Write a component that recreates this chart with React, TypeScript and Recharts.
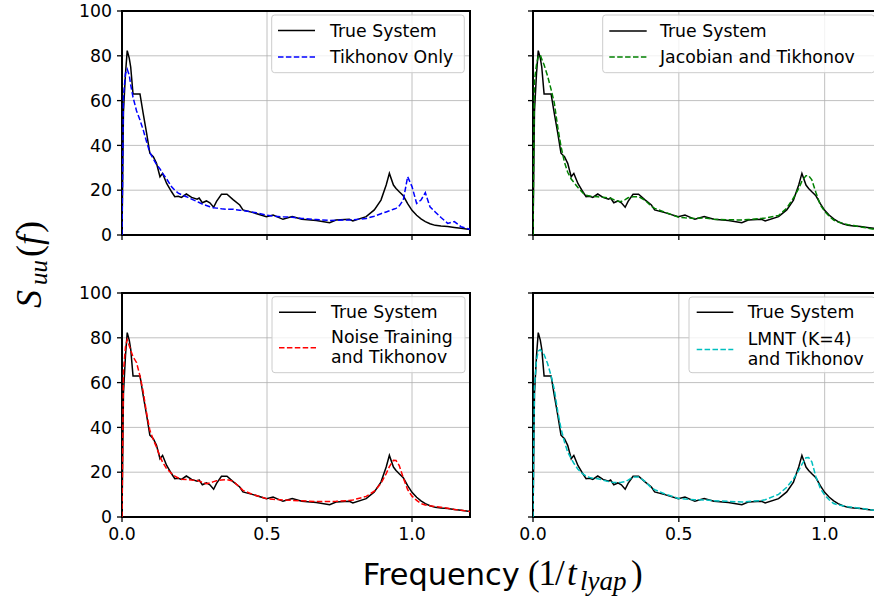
import React from 'react';
import { LineChart, Line, XAxis, YAxis, CartesianGrid, ReferenceArea } from 'recharts';

const frequency = [
  0, 0.005, 0.012, 0.018, 0.025, 0.03, 0.038, 0.05, 0.062, 0.073,
  0.085, 0.096, 0.108, 0.119, 0.131, 0.14, 0.154, 0.171, 0.182, 0.194,
  0.205, 0.222, 0.24, 0.259, 0.266, 0.277, 0.291, 0.303, 0.316, 0.326,
  0.343, 0.362, 0.383, 0.406, 0.417, 0.452, 0.498, 0.521, 0.555, 0.587,
  0.62, 0.67, 0.716, 0.738, 0.784, 0.796, 0.842, 0.87, 0.893, 0.911,
  0.922, 0.936, 0.945, 0.956, 0.97, 0.985, 1.0, 1.016, 1.031, 1.046,
  1.062, 1.08, 1.1, 1.123, 1.146, 1.169, 1.2,
];

const trueSystem = [
  0, 55, 72, 82.3, 79, 75, 63, 63, 63, 54.3,
  45.4, 36.5, 35, 32, 26, 27.5, 23, 19.3, 17.1, 17.3,
  16.8, 18.3, 16.8, 16, 16.5, 14.4, 15.2, 14.4, 12.4, 15.0,
  18.2, 18.2, 15.8, 13.4, 11.2, 10.0, 8.2, 8.9, 7.0, 8.2,
  7.0, 6.5, 5.5, 6.7, 7.0, 6.3, 8.2, 11.2, 15.6, 22.3,
  27.5, 22.3, 20.8, 19.3, 17.5, 14, 11, 8.8, 7.2, 6.0,
  5.0, 4.3, 4.0, 3.8, 3.4, 3.0, 2.5,
];

const tikhonovOnly = [
  0, 62, 72, 74, 71.4, 67, 61.5, 55.5, 51.3, 47,
  41.5, 36.8, 34, 31.5, 29.5, 27.5, 25, 21.5, 20, 18.7,
  18, 17.1, 16, 14.9, 14.5, 13.8, 13.2, 12.6, 12.2, 12,
  11.7, 11.5, 11.5, 11.1, 10.9, 10.2, 8.9, 8.5, 8.1, 7.9,
  7.4, 6.9, 6.5, 6.6, 6.7, 6.8, 7.4, 8.4, 9.5, 10.3,
  10.8, 11.5, 11.9, 13, 15.6, 26, 21.6, 14.1, 15.6, 18.9,
  12.6, 10.3, 7.8, 5.2, 6.0, 3.7, 2.5,
];

const jacobianTikhonov = [
  0, 69, 76, 79.5, 80.4, 78.5, 76, 71, 65, 59,
  48, 39.5, 32.5, 28, 25, 23.5, 21.2, 18.8, 17.7, 17.4,
  17.2, 17.1, 16.8, 16.5, 16.4, 15.8, 15.1, 15.0, 15.8, 16.6,
  17.1, 17.1, 15.6, 12.8, 11.9, 10.2, 8.0, 7.7, 7.4, 7.6,
  7.0, 6.8, 6.7, 6.9, 7.4, 7.6, 8.7, 12, 16.5, 20.8,
  24, 26.5, 26.5, 24.6, 19, 13.5, 10.5, 8.3, 6.7, 5.8,
  5.2, 4.6, 4.2, 3.6, 3.1, 2.6, 2.3,
];

const noiseTikhonov = [
  0, 65, 76, 79.2, 76.5, 74.5, 71.5, 69, 63, 56,
  46.2, 38.7, 34.5, 31.2, 27, 24.5, 21.5, 19.4, 18.2, 17.4,
  16.9, 16.7, 16.5, 16.4, 16, 15.5, 14.9, 15.2, 15.8, 16.2,
  16.5, 16.7, 16.0, 13.3, 11.9, 10.0, 8.2, 7.9, 7.6, 7.4,
  7.2, 6.9, 6.9, 7.0, 7.4, 7.6, 9.2, 11.5, 15, 19.4,
  22.5, 25.3, 25.2, 23, 17.5, 12.2, 9.3, 7.4, 6.0, 5.4,
  5.0, 4.7, 4.4, 3.9, 3.4, 3.0, 2.5,
];

const lmntTikhonov = [
  0, 58, 70, 74, 74.7, 73.8, 72.5, 68.5, 63, 57,
  47, 39.5, 33.5, 29, 26, 24, 21.3, 19.2, 18.3, 17.7,
  17.3, 17.1, 16.5, 15.8, 15.6, 15.4, 15.4, 15.5, 15.8, 16.5,
  17.8, 17.9, 16, 13, 12.2, 10.3, 8.3, 8.0, 7.7, 7.6,
  7.3, 7.0, 6.7, 6.9, 7.4, 7.7, 10.1, 13.3, 17, 20.8,
  23.5, 26.5, 26.6, 24.6, 18, 12.8, 9.8, 7.6, 6.0, 5.4,
  5.0, 4.6, 4.3, 3.9, 3.5, 3.0, 2.5,
];

const xTicks = [0, 0.5, 1.0];
const yTicks = [0, 20, 40, 60, 80, 100];

const data = frequency.map((f, i) => ({
  f,
  truth: trueSystem[i],
  tik: tikhonovOnly[i],
  jac: jacobianTikhonov[i],
  noise: noiseTikhonov[i],
  lmnt: lmntTikhonov[i],
}));

const FONT = 'DejaVu Sans';
const MATH = 'Liberation Serif';
const TICK_FS = 17.3;
const DASH = '5.5 2.4';

type PanelProps = {
  left: number;
  top: number;
  width: number;
  height: number;
  yAxisWidth: number;
  xAxisHeight: number;
  showX: boolean;
  showY: boolean;
  modelKey: string;
  color: string;
};

function Panel(p: PanelProps) {
  return (
    <div style={{ position: 'absolute', left: p.left, top: p.top }}>
      <LineChart
        width={p.width}
        height={p.height}
        data={data}
        margin={{ top: 11, right: 10, bottom: 0, left: 0 }}
      >
        <CartesianGrid stroke="#b0b0b0" strokeWidth={0.8} />
        <XAxis
          dataKey="f"
          type="number"
          domain={[0, 1.2]}
          ticks={xTicks}
          interval={0}
          allowDataOverflow
          height={p.xAxisHeight}
          axisLine={false}
          tickSize={5}
          tickMargin={6}
          tickLine={{ stroke: '#000', strokeWidth: 1.3 }}
          tick={{ fill: '#000', fontSize: TICK_FS, fontFamily: FONT }}
          tickFormatter={(v: number) => (p.showX ? v.toFixed(1) : '')}
        />
        <YAxis
          type="number"
          domain={[0, 100]}
          ticks={yTicks}
          interval={0}
          allowDataOverflow
          width={p.yAxisWidth}
          axisLine={false}
          tickSize={5}
          tickMargin={5}
          tickLine={{ stroke: '#000', strokeWidth: 1.3 }}
          tick={{ fill: '#000', fontSize: TICK_FS, fontFamily: FONT }}
          tickFormatter={(v: number) => (p.showY ? String(v) : '')}
        />
        <Line
          dataKey="truth"
          type="linear"
          stroke="#000000"
          strokeWidth={1.5}
          dot={false}
          activeDot={false}
          isAnimationActive={false}
        />
        <Line
          dataKey={p.modelKey}
          type="linear"
          stroke={p.color}
          strokeWidth={1.5}
          strokeDasharray={DASH}
          dot={false}
          activeDot={false}
          isAnimationActive={false}
        />
        <ReferenceArea
          x1={0}
          x2={1.2}
          y1={0}
          y2={100}
          fill="none"
          fillOpacity={0}
          stroke="#000"
          strokeWidth={2}
          strokeOpacity={1}
          ifOverflow="visible"
        />
      </LineChart>
    </div>
  );
}

type LegendRow = { label: string[]; color: string; dashed: boolean; lineY: number; textY: number[] };

function LegendBox({
  x, y, w, h, hx1, hx2, tx, rows,
}: { x: number; y: number; w: number; h: number; hx1: number; hx2: number; tx: number; rows: LegendRow[] }) {
  return (
    <g>
      <rect x={x} y={y} width={w} height={h} rx={3} ry={3} fill="#ffffff" fillOpacity={0.8} stroke="#cccccc" strokeWidth={1} />
      {rows.map((r, i) => (
        <g key={i}>
          <line
            x1={hx1}
            x2={hx2}
            y1={r.lineY}
            y2={r.lineY}
            stroke={r.color}
            strokeWidth={1.5}
            strokeDasharray={r.dashed ? DASH : undefined}
          />
          {r.label.map((t, j) => (
            <text key={j} x={tx} y={r.textY[j]} fontFamily={FONT} fontSize={TICK_FS} fill="#000" dominantBaseline="central">
              {t}
            </text>
          ))}
        </g>
      ))}
    </g>
  );
}

export default function App() {
  return (
    <div
      style={{
        position: 'fixed',
        left: 0,
        top: 0,
        width: 874,
        height: 598,
        overflow: 'hidden',
        background: '#ffffff',
      }}
    >
      <Panel left={0} top={0} width={480} height={250} yAxisWidth={122} xAxisHeight={15} showX={false} showY={true} modelKey="tik" color="#0000ff" />
      <Panel left={512} top={0} width={381} height={250} yAxisWidth={21} xAxisHeight={15} showX={false} showY={false} modelKey="jac" color="#008000" />
      <Panel left={0} top={282} width={480} height={290} yAxisWidth={122} xAxisHeight={55} showX={true} showY={true} modelKey="noise" color="#ff0000" />
      <Panel left={512} top={282} width={381} height={290} yAxisWidth={21} xAxisHeight={55} showX={true} showY={false} modelKey="lmnt" color="#00bfbf" />

      <svg width={874} height={598} style={{ position: 'absolute', left: 0, top: 0, pointerEvents: 'none' }}>
        <LegendBox
          x={271.7} y={15} w={192.6} h={57.7} hx1={278} hx2={315} tx={330}
          rows={[
            { label: ['True System'], color: '#000', dashed: false, lineY: 30.5, textY: [30.5] },
            { label: ['Tikhonov Only'], color: '#0000ff', dashed: true, lineY: 57, textY: [57] },
          ]}
        />
        <LegendBox
          x={602.7} y={15} w={272} h={57.7} hx1={609.3} hx2={646.7} tx={660}
          rows={[
            { label: ['True System'], color: '#000', dashed: false, lineY: 31, textY: [31] },
            { label: ['Jacobian and Tikhonov'], color: '#008000', dashed: true, lineY: 57, textY: [57] },
          ]}
        />
        <LegendBox
          x={272} y={296.7} w={193} h={76} hx1={279} hx2={316} tx={331}
          rows={[
            { label: ['True System'], color: '#000', dashed: false, lineY: 312.3, textY: [312.3] },
            { label: ['Noise Training', 'and Tikhonov'], color: '#ff0000', dashed: true, lineY: 347.7, textY: [337, 356.5] },
          ]}
        />
        <LegendBox
          x={689} y={297} w={186} h={75.7} hx1={696.7} hx2={733.3} tx={747.7}
          rows={[
            { label: ['True System'], color: '#000', dashed: false, lineY: 312.3, textY: [312.3] },
            { label: ['LMNT (K=4)', 'and Tikhonov'], color: '#00bfbf', dashed: true, lineY: 349.5, textY: [339.3, 358.8] },
          ]}
        />

        <g transform="translate(41 265) rotate(-90)">
          <text fontFamily={MATH} fontSize={36} fill="#000">
            <tspan x={-43} y={0} fontStyle="italic">S</tspan>
            <tspan x={-20} y={6} fontStyle="italic" fontSize={25}>uu</tspan>
            <tspan x={8} y={0}>(</tspan>
            <tspan x={20} y={0} fontStyle="italic">f</tspan>
            <tspan x={32} y={0}>)</tspan>
          </text>
        </g>

        <text x={362.7} y={585} fontFamily={FONT} fontSize={30.4} fill="#000">
          Frequency
        </text>
        <text fontFamily={MATH} fontSize={35} fill="#000">
          <tspan x={528} y={585}>(</tspan>
          <tspan x={538.5} y={585}>1</tspan>
          <tspan x={555} y={585}>/</tspan>
          <tspan x={567} y={585} fontStyle="italic">t</tspan>
          <tspan x={580} y={590} fontStyle="italic" fontSize={27}>lyap</tspan>
          <tspan x={631} y={585}>)</tspan>
        </text>
      </svg>
    </div>
  );
}
